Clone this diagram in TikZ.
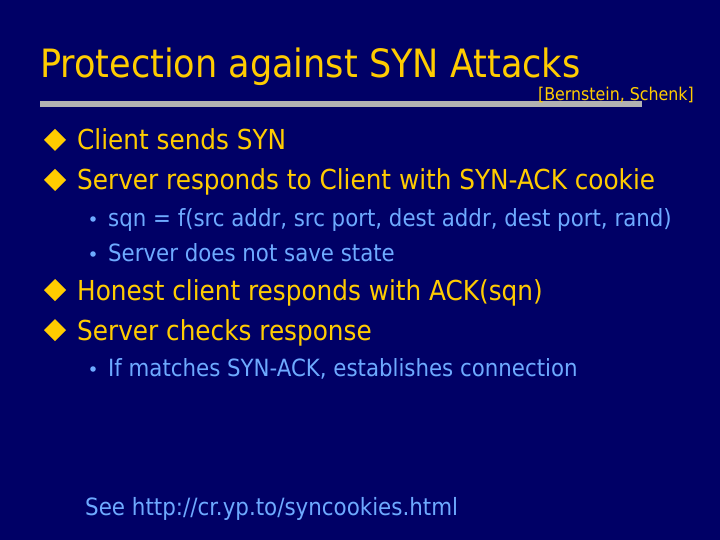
\documentclass[tikz,border=0pt]{standalone}
\usepackage{fontspec}
\setmainfont{DejaVu Sans Condensed}
\definecolor{bg}{RGB}{0,0,102}
\definecolor{yel}{RGB}{255,204,0}
\definecolor{lb}{RGB}{110,170,255}
\begin{document}
\begin{tikzpicture}[x=1pt,y=-1pt,
  main/.style={anchor=base west,text=yel,font=\fontsize{27.5}{30}\selectfont,inner sep=0},
  sub/.style={anchor=base west,text=lb,font=\fontsize{23.7}{26}\selectfont,inner sep=0}]
\fill[bg] (0,0) rectangle (720,540);
\useasboundingbox (0,0) rectangle (720,540);
\node[anchor=base west,text=yel,font=\fontsize{39}{42}\selectfont,inner sep=0] (t) at (40,78) {Protection against SYN Attacks};
\fill[gray!60] (40,101) rectangle (642,107);
\node[anchor=base east,text=yel,font=\fontsize{17.6}{20}\selectfont,inner sep=0] (r) at (694,101) {[Bernstein, Schenk]};
\foreach \y/\t [count=\i] in {150/Client sends SYN,190/Server responds to Client with SYN-ACK cookie,300/Honest client responds with ACK(sqn),340/Server checks response}{
  \fill[yel] (44,\y-10) -- (55,\y-21) -- (66,\y-10) -- (55,\y+1) -- cycle;
  \node[main] (b\i) at (77,\y) {\t};}
\foreach \y/\t [count=\i] in {226/{sqn = f(src addr, src port, dest addr, dest port, rand)},261/Server does not save state,376/{If matches SYN-ACK, establishes connection}}{
  \fill[lb] (93,\y-7) circle (2.8);
  \node[sub] (s\i) at (108,\y) {\t};}
\node[anchor=base west,text=lb,font=\fontsize{23.8}{26}\selectfont,inner sep=0] (u) at (85,515) {See http://cr.yp.to/syncookies.html};
\end{tikzpicture}
\end{document}
